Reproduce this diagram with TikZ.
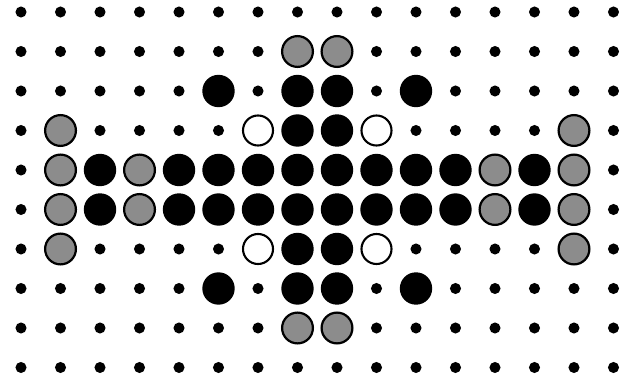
\documentclass[tikz,border=0pt]{standalone}
\usetikzlibrary{positioning}

\begin{document}
\begin{tikzpicture}[
  x=1cm,
  y=1cm,
  ball-d/.style={circle, fill=black, inner sep=0pt, minimum size=0.28cm},
  ball-b/.style={circle, fill=black, inner sep=0pt, minimum size=0.82cm},
  ball-g/.style={circle, draw=black, line width=1.6pt, fill=black!45, inner sep=0pt, minimum size=0.78cm},
  ball-o/.style={circle, draw=black, line width=1.5pt, fill=white, inner sep=0pt, minimum size=0.76cm}
]
  \useasboundingbox (-0.532,0.304) rectangle (15.494,-9.19);

  % d = peg hole, b = black marble, g = speckled marble, o = empty ring
  \foreach \row [count=\r from 0] in {
    {d,d,d,d,d,d,d,d,d,d,d,d,d,d,d,d},
    {d,d,d,d,d,d,d,g,g,d,d,d,d,d,d,d},
    {d,d,d,d,d,b,d,b,b,d,b,d,d,d,d,d},
    {d,g,d,d,d,d,o,b,b,o,d,d,d,d,g,d},
    {d,g,b,g,b,b,b,b,b,b,b,b,g,b,g,d},
    {d,g,b,g,b,b,b,b,b,b,b,b,g,b,g,d},
    {d,g,d,d,d,d,o,b,b,o,d,d,d,d,g,d},
    {d,d,d,d,d,b,d,b,b,d,b,d,d,d,d,d},
    {d,d,d,d,d,d,d,g,g,d,d,d,d,d,d,d},
    {d,d,d,d,d,d,d,d,d,d,d,d,d,d,d,d}}
  {
    \foreach \t [count=\c from 0] in \row
      \node[ball-\t] (cell-\r-\c) at (\c,-\r) {};
  }
\end{tikzpicture}
\end{document}
